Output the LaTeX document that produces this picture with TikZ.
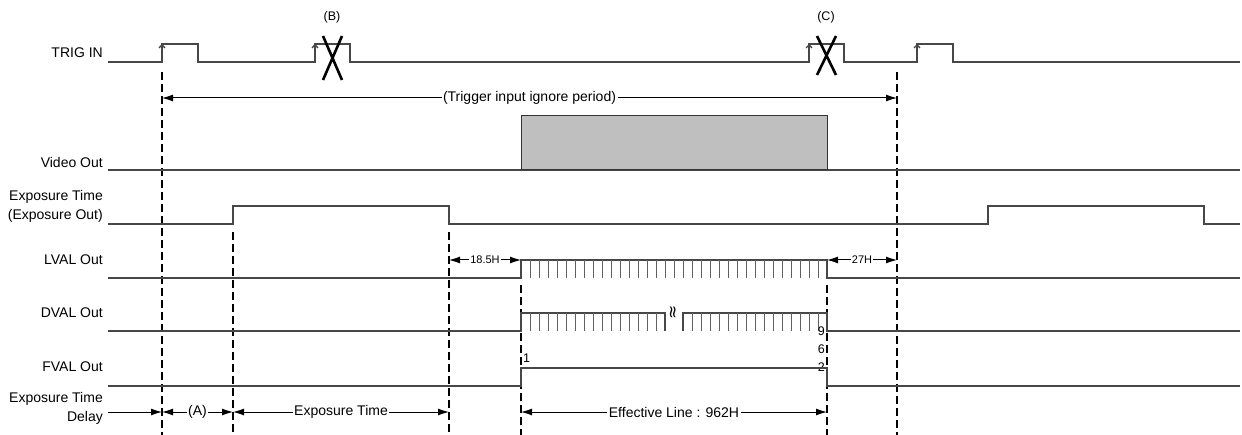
\documentclass[tikz,border=0pt]{standalone}
\usepackage{fontspec}
\setmainfont{Liberation Sans}
\newfontfamily\symfont{DejaVu Sans}
\usepackage{tikz}
\usetikzlibrary{arrows.meta}
\tikzset{>=latex}

\begin{document}
\begin{tikzpicture}[x=1pt,y=-1pt,
    sig/.style={draw=black!72,line width=1.3pt},
    tickln/.style={draw=black!62,line width=1pt},
    trig/.style={sig,-{Straight Barb[length=3pt,width=6pt]}},
    guide/.style={draw=black,line width=2pt,dash pattern=on 8pt off 4pt},
    dim/.style={draw=black,line width=1pt,{Latex[length=11pt,width=7pt]}-{Latex[length=11pt,width=7pt]}},
    dimr/.style={draw=black,line width=1pt,-{Latex[length=11pt,width=7pt]}},
    cross/.style={draw=black,line width=2.6pt},
    lbl/.style={anchor=east,inner sep=0pt,font=\fontsize{14}{16}\selectfont},
    dimlbl/.style={fill=white,inner sep=1.5pt,font=\fontsize{14}{16}\selectfont},
    smlbl/.style={fill=white,inner sep=1pt,font=\fontsize{11}{12}\selectfont},
    digit/.style={inner sep=0pt,font=\fontsize{12.5}{14}\selectfont}]
\useasboundingbox (0,0) rectangle (1242,435);

\node[lbl] (trigin) at (103,53) {TRIG IN};
\node[lbl] (video) at (103,162) {Video Out};
\node[lbl] (expa) at (103,197) {Exposure Time};
\node[lbl] (expb) at (103,216) {(Exposure Out)};
\node[lbl] (lval) at (103,260) {LVAL Out};
\node[lbl] (dval) at (103,313) {DVAL Out};
\node[lbl] (fval) at (103,367) {FVAL Out};
\node[lbl] (dela) at (103,399) {Exposure Time};
\node[lbl] (delb) at (103,418) {Delay};

\draw[sig] (108,62) -- (162,62) -- (162,44) -- (198,44) -- (198,62) -- (315,62) -- (315,44) -- (350,44) -- (350,62)
    -- (809,62) -- (809,44) -- (844,44) -- (844,62) -- (917,62) -- (917,44) -- (953,44) -- (953,62) -- (1240,62);
\foreach \r in {162,315,809,917}
    \draw[trig] (\r,62) -- (\r,44);
\draw[cross] (323,36) -- (342,80) (342,36) -- (323,80);
\draw[cross] (817,36) -- (836,75) (836,36) -- (817,75);
\node[digit] (B) at (332,17) {(B)};
\node[digit] (C) at (826,17) {(C)};

\coordinate (g1t) at (162,72);   \coordinate (g1b) at (162,435);
\coordinate (g2t) at (233,232);  \coordinate (g2b) at (233,435);
\coordinate (g3t) at (449,232);  \coordinate (g3b) at (449,435);
\coordinate (g4t) at (521,285);  \coordinate (g4b) at (521,435);
\coordinate (g5t) at (827,285);  \coordinate (g5b) at (827,435);
\coordinate (g6t) at (897,72);   \coordinate (g6b) at (897,435);
\foreach \g in {1,...,6}
    \draw[guide] (g\g t) -- (g\g b);

\coordinate (ig0) at (162,98);
\coordinate (ig1) at (897,98);
\draw[dim] (ig0) -- node[dimlbl] (ign) {(Trigger input ignore period)} (ig1);

\draw[sig] (108,170) -- (1240,170);
\filldraw[fill=black!25,draw=black!80,line width=1pt] (521,116) rectangle (827,170);

\draw[sig] (108,224) -- (233,224) -- (233,206) -- (449,206) -- (449,224) -- (988,224) -- (988,206) -- (1204,206) -- (1204,224) -- (1240,224);

\draw[sig] (108,278) -- (521,278) -- (521,260) -- (827,260) -- (827,278) -- (1240,278);
\foreach \k in {1,...,33}
    \draw[tickln] ({521+9*\k},260) -- ({521+9*\k},278);
\coordinate (l0) at (449,260);
\coordinate (l1) at (521,260);
\coordinate (l2) at (827,260);
\coordinate (l3) at (897,260);
\draw[dim] (l0) -- node[smlbl] (h185) {18.5H} (l1);
\draw[dim] (l2) -- node[smlbl] (h27) {27H} (l3);

\draw[sig] (108,331) -- (521,331) -- (521,313) -- (665,313) -- (665,331);
\draw[sig] (683,331) -- (683,313) -- (827,313) -- (827,331) -- (1240,331);
\foreach \k in {1,...,15}
    \draw[tickln] ({521+9*\k},313) -- ({521+9*\k},331);
\foreach \k in {1,...,15}
    \draw[tickln] ({683+9*\k},313) -- ({683+9*\k},331);
\node[rotate=90,inner sep=0pt,font=\symfont\fontsize{17}{18}\selectfont] (brk) at (674,312) {≈};
\node[digit,anchor=east] (n9) at (825,331) {9};
\node[digit,anchor=east] (n6) at (825,349) {6};
\node[digit,anchor=east] (n2) at (825,367) {2};
\node[digit,anchor=west] (n1) at (523,358) {1};

\draw[sig] (108,386) -- (521,386) -- (521,368) -- (827,368) -- (827,386) -- (1240,386);

\coordinate (b0) at (108,412);
\coordinate (b1) at (162,412);
\coordinate (b2) at (233,412);
\coordinate (b3) at (449,412);
\coordinate (b4) at (521,412);
\coordinate (b5) at (827,412);
\draw[dimr] (b0) -- (b1);
\draw[dim] (b1) -- node[dimlbl] (dA) {(A)} (b2);
\draw[dim] (b2) -- node[dimlbl] (dexp) {Exposure Time} (b3);
\draw[dim] (b4) -- node[dimlbl] (deff) {Effective Line : 962H} (b5);
\end{tikzpicture}
\end{document}
